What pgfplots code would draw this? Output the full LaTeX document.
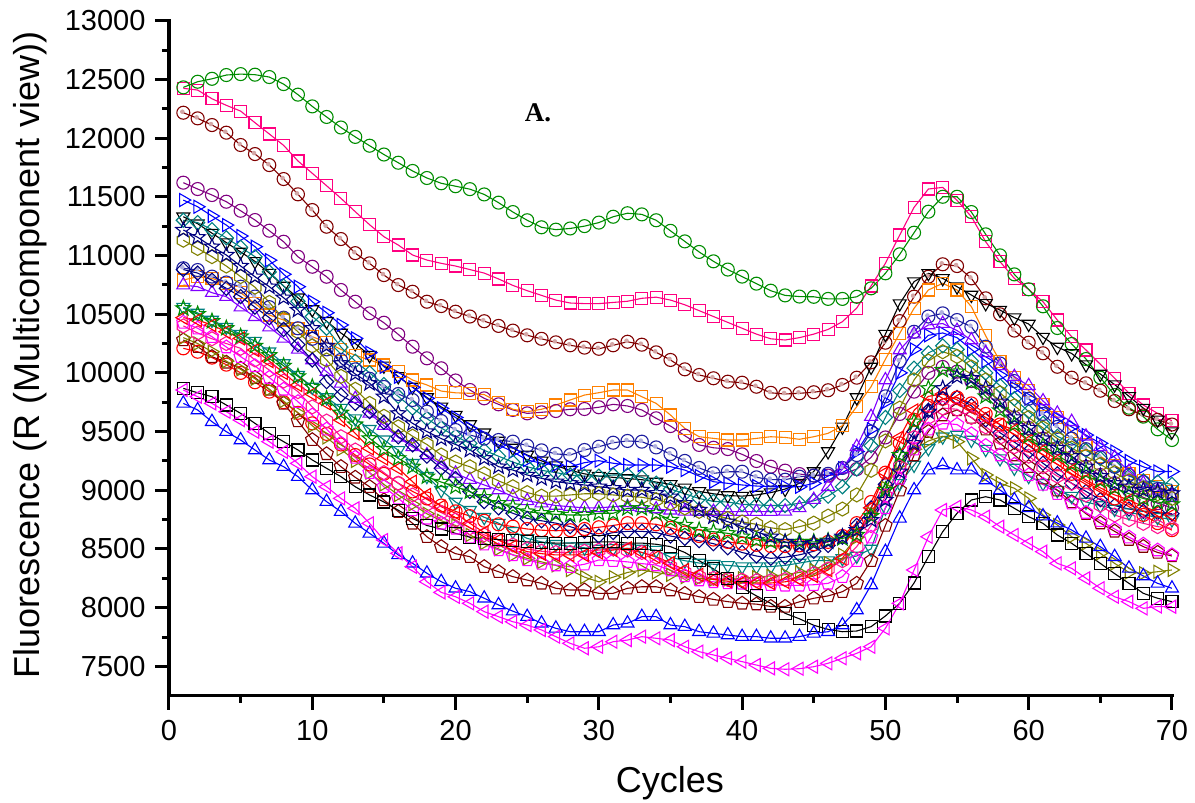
\documentclass[border=0pt]{standalone}
\usepackage{pgfplots}
\pgfplotsset{compat=1.18}
\usepackage{fontspec}
\setmainfont{Liberation Sans}
\newfontfamily\tnr{Liberation Serif}
\usetikzlibrary{plotmarks}

\definecolor{cGreen}{RGB}{0,140,0}
\definecolor{cPink}{RGB}{255,0,128}
\definecolor{cMaroon}{RGB}{128,0,0}
\definecolor{cPurple}{RGB}{128,0,128}
\definecolor{cBlue}{RGB}{0,0,255}
\definecolor{cTeal}{RGB}{0,128,128}
\definecolor{cNavy}{RGB}{0,0,128}
\definecolor{cOlive}{RGB}{128,128,0}
\definecolor{cRoyal}{RGB}{30,30,160}
\definecolor{cOrange}{RGB}{255,128,0}
\definecolor{cViolet}{RGB}{128,0,255}
\definecolor{cRed}{RGB}{255,0,0}
\definecolor{cMagenta}{RGB}{255,0,255}
\definecolor{cHot}{RGB}{255,20,147}

\pgfdeclareplotmark{hexa}{%
 \pgfpathmoveto{\pgfpointpolar{90}{\pgfplotmarksize}}%
 \pgfpathlineto{\pgfpointpolar{150}{\pgfplotmarksize}}%
 \pgfpathlineto{\pgfpointpolar{210}{\pgfplotmarksize}}%
 \pgfpathlineto{\pgfpointpolar{270}{\pgfplotmarksize}}%
 \pgfpathlineto{\pgfpointpolar{330}{\pgfplotmarksize}}%
 \pgfpathlineto{\pgfpointpolar{30}{\pgfplotmarksize}}%
 \pgfpathclose\pgfusepathqstroke}
\pgfdeclareplotmark{ostar}{%
 \pgfpathmoveto{\pgfpointpolar{90}{\pgfplotmarksize}}%
 \pgfpathlineto{\pgfpointpolar{126}{0.42*\pgfplotmarksize}}%
 \pgfpathlineto{\pgfpointpolar{162}{\pgfplotmarksize}}%
 \pgfpathlineto{\pgfpointpolar{198}{0.42*\pgfplotmarksize}}%
 \pgfpathlineto{\pgfpointpolar{234}{\pgfplotmarksize}}%
 \pgfpathlineto{\pgfpointpolar{270}{0.42*\pgfplotmarksize}}%
 \pgfpathlineto{\pgfpointpolar{306}{\pgfplotmarksize}}%
 \pgfpathlineto{\pgfpointpolar{342}{0.42*\pgfplotmarksize}}%
 \pgfpathlineto{\pgfpointpolar{18}{\pgfplotmarksize}}%
 \pgfpathlineto{\pgfpointpolar{54}{0.42*\pgfplotmarksize}}%
 \pgfpathclose\pgfusepathqstroke}
\pgfdeclareplotmark{dotcirc}{%
 \pgfpathcircle{\pgfpointorigin}{\pgfplotmarksize}\pgfusepathqstroke
 \pgfpathcircle{\pgfpoint{-1pt}{1pt}}{2.3pt}\pgfusepathqfill}

\newcommand{\series}[2]{\addplot[#1] table[header=false,x expr=\coordindex+1,y index=0,row sep=\\]{#2};}

\begin{document}
\begin{tikzpicture}
\useasboundingbox (-169pt,-107.3pt) rectangle (1026pt,695.7pt);
\begin{axis}[
 at={(0pt,0pt)}, anchor=south west,
 scale only axis, width=1003pt, height=675pt,
 xmin=0, xmax=70, ymin=7250, ymax=13000,
 axis x line*=bottom, axis y line*=left,
 axis line style={line width=3.4pt, line cap=rect},
 xtick={0,10,...,70}, ytick={7500,8000,...,13000},
 minor x tick num=1, minor y tick num=1,
 tick align=outside,
 major tick length=14pt, minor tick length=7pt,
 major tick style={black, line width=3pt},
 minor tick style={black, line width=3pt},
 tick label style={font=\fontsize{29}{32}\selectfont},
 yticklabel style={xshift=-6pt},
 xticklabel style={yshift=-7pt},
 /pgf/number format/assume math mode=true,
 /pgf/number format/set thousands separator={},
 scaled y ticks=false,
 every axis plot/.append style={line width=1.1pt, mark options={solid, line width=1.1pt}},
]
% pink squares
\series{cPink, mark=square, mark size=6pt}{12424\\12409\\12335\\12279\\12230\\12131\\12035\\11938\\11805\\11700\\11594\\11487\\11373\\11262\\11160\\11089\\11004\\10961\\10933\\10910\\10880\\10850\\10800\\10745\\10700\\10660\\10620\\10595\\10590\\10590\\10600\\10610\\10635\\10645\\10620\\10580\\10530\\10480\\10430\\10380\\10330\\10290\\10280\\10300\\10330\\10370\\10436\\10552\\10740\\10933\\11174\\11410\\11566\\11580\\11470\\11330\\11117\\10947\\10805\\10710\\10606\\10450\\10308\\10195\\10073\\9954\\9826\\9726\\9655\\9592\\}
% green circles
\series{cGreen, mark=o, mark size=6.5pt}{12432\\12480\\12505\\12537\\12545\\12540\\12520\\12460\\12370\\12270\\12180\\12090\\12010\\11935\\11860\\11790\\11720\\11660\\11615\\11590\\11565\\11520\\11450\\11370\\11300\\11240\\11220\\11230\\11250\\11280\\11330\\11360\\11350\\11300\\11210\\11120\\11030\\10950\\10880\\10820\\10760\\10700\\10660\\10650\\10648\\10630\\10630\\10648\\10720\\10848\\11010\\11194\\11373\\11500\\11500\\11370\\11180\\11001\\10839\\10712\\10567\\10382\\10246\\10118\\9959\\9811\\9703\\9627\\9519\\9428\\}
% maroon balls
\series{cMaroon, mark=dotcirc, mark size=6.5pt, mark options={fill=cMaroon!35}}{12216\\12168\\12111\\12046\\11941\\11864\\11770\\11651\\11521\\11387\\11245\\11140\\11020\\10933\\10833\\10748\\10691\\10606\\10569\\10521\\10480\\10440\\10400\\10360\\10320\\10290\\10260\\10235\\10215\\10205\\10235\\10265\\10240\\10175\\10110\\10030\\9982\\9954\\9925\\9916\\9882\\9830\\9820\\9826\\9835\\9852\\9897\\9959\\10090\\10257\\10441\\10649\\10819\\10925\\10910\\10805\\10635\\10499\\10360\\10257\\10167\\10052\\9959\\9911\\9848\\9760\\9690\\9638\\9600\\9560\\}
% purple circles
\series{cPurple, mark=o, mark size=6.5pt}{11620\\11566\\11515\\11458\\11381\\11302\\11211\\11117\\10989\\10904\\10819\\10706\\10606\\10507\\10427\\10328\\10223\\10124\\10039\\9935\\9854\\9783\\9732\\9684\\9655\\9664\\9675\\9690\\9692\\9707\\9732\\9718\\9684\\9613\\9547\\9465\\9386\\9362\\9351\\9306\\9249\\9201\\9167\\9138\\9125\\9125\\9140\\9180\\9280\\9450\\9650\\9840\\10000\\10050\\10010\\9930\\9830\\9720\\9620\\9530\\9440\\9360\\9280\\9200\\9130\\9060\\9000\\8940\\8890\\8850\\}
% black down triangles
\series{black, mark=triangle, mark size=7.5pt, mark options={rotate=180}}{11330\\11270\\11190\\11110\\11030\\10950\\10850\\10740\\10640\\10540\\10440\\10340\\10250\\10150\\10060\\9970\\9880\\9790\\9710\\9640\\9560\\9490\\9420\\9360\\9300\\9250\\9210\\9170\\9140\\9120\\9110\\9100\\9090\\9070\\9050\\9020\\8990\\8970\\8955\\8950\\8960\\8980\\9010\\9060\\9160\\9330\\9540\\9790\\10050\\10330\\10590\\10777\\10848\\10805\\10734\\10663\\10592\\10535\\10470\\10416\\10305\\10220\\10165\\10070\\9990\\9900\\9800\\9700\\9600\\9500\\}
% orange squares
\series{cOrange, mark=square, mark size=6pt}{10791\\10819\\10805\\10763\\10683\\10592\\10493\\10450\\10380\\10308\\10260\\10200\\10150\\10110\\10067\\10010\\9939\\9897\\9845\\9830\\9826\\9815\\9750\\9690\\9669\\9690\\9726\\9769\\9811\\9831\\9854\\9854\\9797\\9740\\9641\\9527\\9456\\9442\\9428\\9428\\9442\\9456\\9450\\9434\\9456\\9485\\9550\\9712\\9882\\10116\\10337\\10550\\10706\\10763\\10706\\10564\\10315\\10100\\9960\\9850\\9730\\9620\\9500\\9390\\9290\\9210\\9140\\9080\\9030\\8990\\}
% blue right triangles
\series{cBlue, mark=triangle, mark size=7.5pt, mark options={rotate=-90}}{11472\\11415\\11336\\11259\\11166\\11075\\10960\\10840\\10734\\10606\\10512\\10408\\10294\\10172\\10052\\9967\\9877\\9783\\9698\\9620\\9528\\9456\\9386\\9328\\9258\\9230\\9215\\9201\\9235\\9252\\9230\\9215\\9215\\9215\\9201\\9172\\9121\\9073\\9059\\9045\\9036\\9030\\9030\\9030\\9059\\9121\\9187\\9330\\9520\\9750\\10000\\10200\\10320\\10340\\10300\\10200\\10100\\9980\\9870\\9780\\9690\\9610\\9540\\9470\\9400\\9330\\9250\\9200\\9160\\9160\\}
% teal diamonds
\series{cTeal, mark=square, mark size=5pt, mark options={rotate=45}}{11300\\11280\\11220\\11150\\11070\\10990\\10860\\10740\\10610\\10480\\10380\\10220\\10100\\10000\\9900\\9800\\9700\\9610\\9530\\9460\\9400\\9340\\9290\\9240\\9200\\9170\\9150\\9130\\9120\\9120\\9130\\9130\\9110\\9060\\9010\\8970\\8930\\8905\\8900\\8880\\8875\\8870\\8870\\8890\\8910\\8950\\9030\\9180\\9380\\9620\\9850\\10040\\10170\\10230\\10200\\10100\\10000\\9890\\9780\\9670\\9570\\9460\\9400\\9340\\9270\\9200\\9120\\9080\\9070\\9050\\}
% royal balls
\series{cRoyal, mark=dotcirc, mark size=6.5pt, mark options={fill=cRoyal!35}}{10891\\10876\\10820\\10770\\10734\\10650\\10560\\10470\\10380\\10290\\10200\\10110\\10030\\9950\\9880\\9820\\9769\\9669\\9590\\9513\\9470\\9440\\9428\\9414\\9380\\9340\\9310\\9300\\9343\\9371\\9405\\9420\\9414\\9365\\9308\\9250\\9190\\9144\\9158\\9158\\9110\\9090\\9090\\9116\\9125\\9140\\9190\\9300\\9500\\9800\\10100\\10350\\10480\\10507\\10450\\10393\\10223\\10080\\9930\\9780\\9650\\9540\\9440\\9350\\9280\\9200\\9130\\9070\\9010\\8960\\}
% violet up triangles
\series{cViolet, mark=triangle, mark size=7.5pt}{10748\\10734\\10683\\10649\\10560\\10478\\10390\\10294\\10200\\10110\\10010\\9911\\9780\\9655\\9550\\9450\\9370\\9300\\9220\\9144\\9090\\9045\\9002\\8945\\8910\\8890\\8870\\8860\\8850\\8850\\8860\\8860\\8850\\8840\\8830\\8820\\8818\\8818\\8818\\8818\\8818\\8818\\8820\\8850\\8920\\9030\\9180\\9371\\9627\\9939\\10195\\10330\\10408\\10420\\10360\\10280\\10170\\10060\\9967\\9890\\9760\\9655\\9584\\9460\\9370\\9280\\9160\\9059\\9000\\8950\\}
% olive hexagons
\series{cOlive, mark=hexa, mark size=7pt}{11130\\11060\\10990\\10910\\10820\\10730\\10600\\10460\\10350\\10230\\10110\\9970\\9860\\9740\\9630\\9540\\9460\\9390\\9300\\9240\\9200\\9140\\9080\\9030\\8980\\8950\\8950\\8960\\8970\\8970\\8960\\8950\\8940\\8920\\8890\\8850\\8820\\8790\\8760\\8730\\8710\\8680\\8665\\8690\\8720\\8780\\8840\\8960\\9170\\9420\\9700\\9940\\10100\\10180\\10140\\10050\\9940\\9830\\9720\\9620\\9530\\9440\\9360\\9290\\9220\\9150\\9080\\9020\\8970\\8930\\}
% teal down triangles
\series{cTeal, mark=triangle, mark size=7.5pt, mark options={rotate=180}}{10560\\10510\\10450\\10390\\10330\\10270\\10180\\10080\\9980\\9880\\9790\\9700\\9610\\9520\\9430\\9340\\9230\\9120\\9000\\8900\\8830\\8770\\8720\\8650\\8590\\8560\\8540\\8520\\8510\\8500\\8505\\8505\\8500\\8490\\8430\\8400\\8380\\8370\\8360\\8350\\8350\\8350\\8360\\8380\\8400\\8400\\8420\\8440\\8500\\8850\\9059\\9215\\9357\\9456\\9471\\9428\\9350\\9270\\9190\\9120\\9060\\9000\\8950\\8900\\8870\\8840\\8810\\8790\\8770\\8750\\}
% navy diamonds
\series{cNavy, mark=square, mark size=5pt, mark options={rotate=45}}{10880\\10850\\10790\\10720\\10650\\10560\\10470\\10370\\10240\\10110\\9925\\9810\\9740\\9670\\9580\\9456\\9386\\9290\\9187\\9100\\8990\\8903\\8850\\8804\\8760\\8740\\8720\\8690\\8650\\8610\\8640\\8650\\8650\\8640\\8610\\8590\\8570\\8545\\8510\\8470\\8440\\8420\\8430\\8450\\8480\\8530\\8600\\8700\\8850\\9050\\9300\\9500\\9680\\9780\\9790\\9720\\9600\\9490\\9410\\9330\\9230\\9140\\9060\\8990\\8920\\8870\\8840\\8820\\8810\\8800\\}
% red circles
\series{cRed, mark=o, mark size=6.5pt}{10209\\10180\\10130\\10070\\10000\\9920\\9840\\9750\\9660\\9570\\9480\\9390\\9300\\9220\\9140\\9060\\8990\\8930\\8870\\8820\\8780\\8740\\8710\\8690\\8670\\8660\\8655\\8660\\8670\\8685\\8700\\8720\\8720\\8710\\8680\\8640\\8610\\8580\\8560\\8545\\8535\\8525\\8525\\8530\\8540\\8560\\8610\\8720\\8900\\9150\\9400\\9600\\9720\\9780\\9790\\9740\\9650\\9560\\9470\\9380\\9300\\9220\\9140\\9070\\9000\\8930\\8860\\8790\\8720\\8660\\}
% maroon pentagons
\series{cMaroon, mark=pentagon, mark size=7pt}{10280\\10223\\10138\\10090\\10039\\9960\\9860\\9740\\9590\\9430\\9310\\9201\\9110\\9030\\8917\\8818\\8718\\8604\\8519\\8460\\8434\\8349\\8306\\8264\\8235\\8207\\8165\\8150\\8150\\8122\\8122\\8165\\8178\\8178\\8150\\8120\\8093\\8070\\8051\\8037\\8030\\8010\\8010\\8050\\8080\\8100\\8136\\8207\\8400\\8700\\9000\\9300\\9500\\9640\\9684\\9620\\9520\\9400\\9300\\9200\\9102\\9000\\8900\\8800\\8720\\8650\\8580\\8520\\8470\\8440\\}
% olive right triangles
\series{cOlive, mark=triangle, mark size=7.5pt, mark options={rotate=-90}}{10300\\10250\\10180\\10100\\10030\\9950\\9860\\9760\\9660\\9550\\9450\\9350\\9250\\9150\\9050\\8960\\8880\\8800\\8740\\8700\\8620\\8550\\8500\\8450\\8420\\8390\\8360\\8320\\8260\\8220\\8260\\8300\\8320\\8300\\8280\\8260\\8250\\8240\\8240\\8250\\8260\\8270\\8280\\8300\\8320\\8380\\8450\\8600\\8800\\9020\\9220\\9350\\9420\\9460\\9414\\9272\\9130\\9060\\9017\\8931\\8789\\8704\\8604\\8548\\8463\\8377\\8300\\8293\\8306\\8321\\}
% hot pink hexagons
\series{cHot, mark=hexa, mark size=7pt}{10400\\10340\\10290\\10250\\10209\\10110\\10024\\9930\\9840\\9710\\9590\\9456\\9343\\9243\\9150\\9060\\8960\\8880\\8810\\8747\\8680\\8620\\8575\\8534\\8500\\8480\\8470\\8470\\8480\\8490\\8500\\8490\\8470\\8430\\8349\\8300\\8264\\8250\\8240\\8235\\8230\\8230\\8240\\8260\\8290\\8330\\8400\\8520\\8700\\8950\\9200\\9450\\9620\\9700\\9690\\9620\\9540\\9450\\9370\\9290\\9200\\9120\\9059\\8960\\8874\\8789\\8750\\8718\\8690\\8676\\}
% magenta pentagons
\series{cMagenta, mark=pentagon, mark size=7pt}{10430\\10380\\10308\\10220\\10138\\10060\\9960\\9860\\9754\\9640\\9520\\9400\\9280\\9150\\9030\\8931\\8832\\8761\\8718\\8676\\8600\\8540\\8491\\8449\\8406\\8377\\8363\\8349\\8370\\8406\\8400\\8390\\8375\\8363\\8320\\8270\\8235\\8220\\8210\\8207\\8200\\8195\\8190\\8190\\8195\\8207\\8264\\8400\\8600\\8850\\9100\\9350\\9520\\9570\\9560\\9480\\9380\\9300\\9220\\9130\\9050\\8970\\8890\\8810\\8740\\8670\\8600\\8540\\8490\\8449\\}
% red left triangles
\series{cRed, mark=triangle, mark size=7.5pt, mark options={rotate=90}}{10470\\10450\\10407\\10350\\10294\\10195\\10100\\10000\\9897\\9820\\9741\\9598\\9485\\9357\\9270\\9187\\9073\\8960\\8860\\8804\\8718\\8640\\8576\\8520\\8477\\8460\\8449\\8449\\8449\\8470\\8491\\8505\\8470\\8434\\8380\\8320\\8280\\8240\\8225\\8215\\8210\\8210\\8220\\8240\\8270\\8320\\8420\\8600\\8850\\9150\\9450\\9680\\9800\\9820\\9770\\9700\\9620\\9560\\9513\\9420\\9340\\9258\\9170\\9087\\9020\\8960\\8917\\8860\\8818\\8789\\}
% green stars
\series{cGreen, mark=ostar, mark size=8pt}{10550\\10500\\10440\\10380\\10310\\10230\\10150\\10060\\9970\\9880\\9780\\9660\\9560\\9442\\9350\\9272\\9200\\9116\\9070\\9030\\8988\\8940\\8889\\8860\\8818\\8804\\8795\\8789\\8789\\8804\\8804\\8846\\8846\\8804\\8747\\8704\\8661\\8647\\8633\\8604\\8576\\8562\\8555\\8560\\8560\\8570\\8590\\8620\\8780\\9002\\9300\\9584\\9868\\10024\\10010\\9920\\9800\\9680\\9560\\9460\\9380\\9300\\9220\\9150\\9080\\9020\\8970\\8930\\8900\\8880\\}
% navy stars
\series{cNavy, mark=ostar, mark size=8pt}{11217\\11155\\11075\\11004\\10910\\10819\\10734\\10640\\10535\\10380\\10230\\10081\\9990\\9911\\9797\\9655\\9570\\9500\\9440\\9390\\9343\\9272\\9201\\9172\\9130\\9102\\9073\\9059\\9045\\9030\\9017\\9002\\9002\\8974\\8945\\8889\\8832\\8775\\8732\\8690\\8647\\8604\\8560\\8540\\8548\\8562\\8604\\8661\\8746\\8917\\9158\\9400\\9669\\9868\\9967\\9954\\9868\\9754\\9620\\9530\\9440\\9360\\9290\\9200\\9120\\9059\\9030\\9002\\8988\\8974\\}
% black squares
\series{black, mark=square, mark size=6pt}{9868\\9830\\9797\\9726\\9655\\9570\\9485\\9414\\9343\\9258\\9187\\9116\\9030\\8960\\8900\\8830\\8760\\8700\\8670\\8633\\8600\\8590\\8580\\8570\\8560\\8555\\8550\\8550\\8555\\8560\\8560\\8550\\8550\\8540\\8520\\8470\\8400\\8330\\8250\\8170\\8100\\8037\\7952\\7905\\7850\\7815\\7795\\7801\\7838\\7929\\8037\\8210\\8434\\8647\\8804\\8917\\8945\\8917\\8846\\8775\\8718\\8619\\8548\\8463\\8377\\8290\\8207\\8122\\8080\\8051\\}
% blue up triangles
\series{cBlue, mark=triangle, mark size=7.5pt}{9740\\9684\\9584\\9499\\9428\\9343\\9258\\9201\\9116\\9002\\8903\\8818\\8718\\8633\\8548\\8449\\8378\\8293\\8221\\8165\\8136\\8080\\8023\\7970\\7923\\7867\\7824\\7795\\7795\\7795\\7852\\7867\\7923\\7923\\7852\\7838\\7795\\7781\\7767\\7753\\7753\\7739\\7739\\7753\\7781\\7795\\7852\\7980\\8193\\8477\\8761\\9002\\9172\\9215\\9172\\9172\\9087\\9002\\8917\\8850\\8780\\8720\\8661\\8590\\8519\\8434\\8335\\8270\\8207\\8165\\}
% magenta left triangles
\series{cMagenta, mark=triangle, mark size=7.5pt, mark options={rotate=90}}{9854\\9797\\9740\\9669\\9598\\9499\\9414\\9328\\9229\\9116\\9030\\8931\\8846\\8718\\8576\\8463\\8349\\8221\\8130\\8093\\8037\\7966\\7923\\7880\\7852\\7810\\7753\\7696\\7654\\7667\\7710\\7724\\7753\\7739\\7724\\7667\\7625\\7597\\7569\\7540\\7511\\7483\\7475\\7480\\7497\\7526\\7569\\7611\\7667\\7824\\8037\\8321\\8604\\8832\\8860\\8832\\8775\\8690\\8619\\8548\\8477\\8377\\8335\\8250\\8165\\8093\\8051\\7994\\8010\\8008\\}
\node[font=\tnr\bfseries\fontsize{27}{30}\selectfont] at (axis cs:25.75,12213) {A.};
\end{axis}
\node[rotate=90, font=\fontsize{36}{40}\selectfont] at (-139pt,340.7pt) {Fluorescence (R (Multicomponent view))};
\node[anchor=base, font=\fontsize{36}{40}\selectfont] at (501pt,-97.3pt) {Cycles};
\end{tikzpicture}
\end{document}
